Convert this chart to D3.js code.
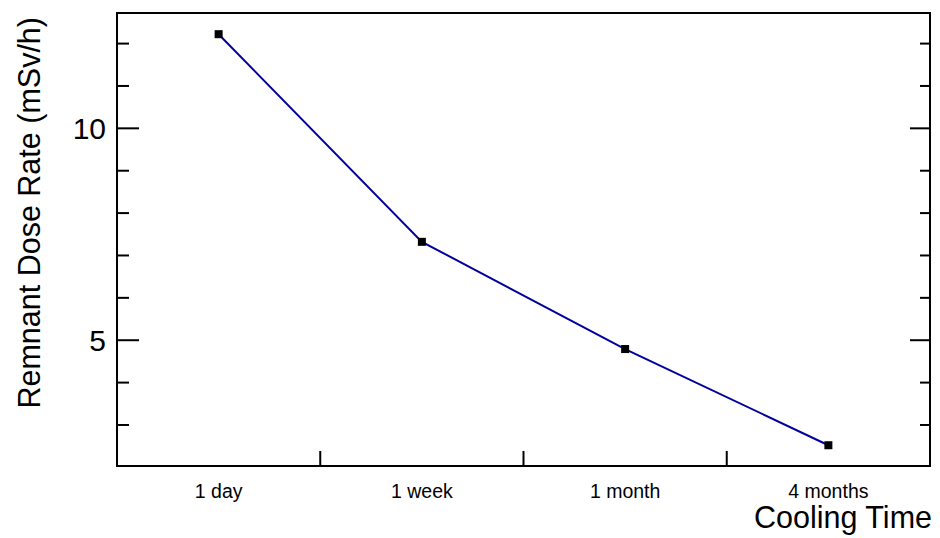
<!DOCTYPE html>
<html>
<head>
<meta charset="utf-8">
<script src="https://cdn.jsdelivr.net/npm/d3@7"></script>
<style>
  html, body { margin: 0; padding: 0; background: #fff; }
  svg text { font-family: "Liberation Sans", Arial, Helvetica, sans-serif; fill: #000; }
</style>
</head>
<body>
<svg id="chart" width="940" height="538"></svg>
<script>
const categories = ["1 day", "1 week", "1 month", "4 months"];
const doseRate = [12.21, 7.31, 4.78, 2.51];
const yMajorTicks = [5, 10];
const yMinorTicks = [3, 4, 6, 7, 8, 9, 11, 12];
const yDomain = [2.02, 12.71];
const xTitle = "Cooling Time";
const yTitle = "Remnant Dose Rate (mSv/h)";

const svg = d3.select("#chart");
const L = 117, R = 930, T = 13, B = 466;

const x = d3.scaleBand().domain(categories).range([L, R]).padding(0);
const y = d3.scaleLinear().domain(yDomain).range([B, T]);

// Left axis: major ticks with labels
const leftMajor = d3.axisRight(y).tickValues(yMajorTicks).tickSize(22).tickFormat(d3.format("d"));
const gl = svg.append("g").attr("transform", `translate(${L},0)`).call(leftMajor);
gl.select(".domain").remove();
gl.selectAll(".tick line").attr("stroke", "#000").attr("stroke-width", 2);
gl.selectAll(".tick text").attr("x", -11).attr("text-anchor", "end")
  .attr("font-size", 30).attr("dy", "0.36em");

const leftMinor = d3.axisRight(y).tickValues(yMinorTicks).tickSize(12).tickFormat("");
const glm = svg.append("g").attr("transform", `translate(${L},0)`).call(leftMinor);
glm.select(".domain").remove();
glm.selectAll(".tick line").attr("stroke", "#000").attr("stroke-width", 2);

// Right axis ticks (inward)
const rightMajor = d3.axisLeft(y).tickValues(yMajorTicks).tickSize(20).tickFormat("");
const gr = svg.append("g").attr("transform", `translate(${R},0)`).call(rightMajor);
gr.select(".domain").remove();
gr.selectAll(".tick line").attr("stroke", "#000").attr("stroke-width", 2);
const rightMinor = d3.axisLeft(y).tickValues(yMinorTicks).tickSize(10).tickFormat("");
const grm = svg.append("g").attr("transform", `translate(${R},0)`).call(rightMinor);
grm.select(".domain").remove();
grm.selectAll(".tick line").attr("stroke", "#000").attr("stroke-width", 2);

// Bottom axis: labels at band centres, ticks at band boundaries
const gx = svg.append("g").attr("transform", `translate(0,${B})`)
  .call(d3.axisBottom(x).tickSize(0));
gx.select(".domain").remove();
gx.selectAll(".tick text").attr("font-size", 19.5).attr("y", 32).attr("dy", 0);

const boundaries = categories.slice(1).map(c => x(c));
svg.append("g").selectAll("line").data(boundaries).join("line")
  .attr("x1", d => d).attr("x2", d => d)
  .attr("y1", B).attr("y2", B - 15)
  .attr("stroke", "#000").attr("stroke-width", 2);

// Frame
svg.append("rect").attr("x", L).attr("y", T).attr("width", R - L).attr("height", B - T)
  .attr("fill", "none").attr("stroke", "#000").attr("stroke-width", 2);

// Line
const line = d3.line().x((d, i) => x(categories[i]) + x.bandwidth() / 2).y(d => y(d));
svg.append("path").datum(doseRate).attr("d", line)
  .attr("fill", "none").attr("stroke", "#00009c").attr("stroke-width", 2);

// Markers
const ms = 8;
svg.append("g").selectAll("rect").data(doseRate).join("rect")
  .attr("x", (d, i) => x(categories[i]) + x.bandwidth() / 2 - ms / 2)
  .attr("y", d => y(d) - ms / 2)
  .attr("width", ms).attr("height", ms).attr("fill", "#000");

// Titles
svg.append("text").attr("x", 932).attr("y", 528).attr("text-anchor", "end")
  .attr("font-size", 30.5).text(xTitle);
svg.append("text").attr("transform", "translate(40,17) rotate(-90)")
  .attr("text-anchor", "end").attr("font-size", 30.5).text(yTitle);
</script>
</body>
</html>
